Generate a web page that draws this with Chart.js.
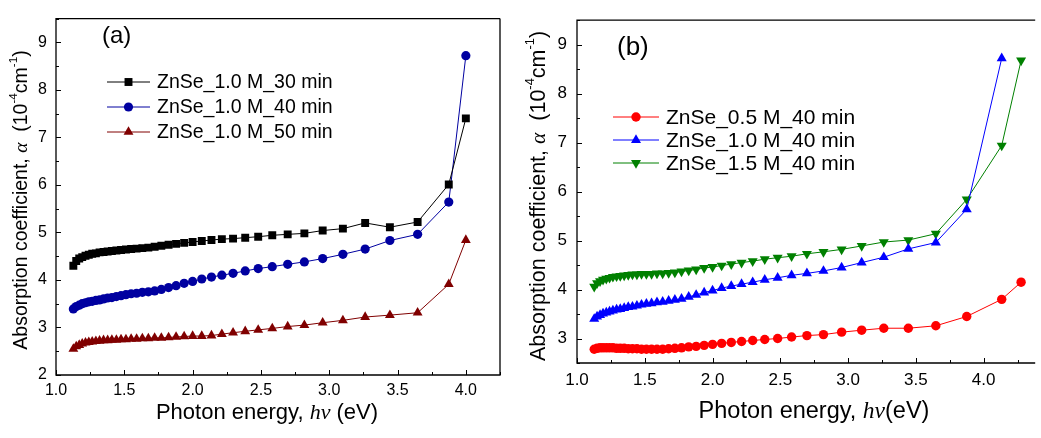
<!DOCTYPE html>
<html>
<head>
<meta charset="utf-8">
<script src="https://cdn.jsdelivr.net/npm/chart.js@4.4.0/dist/chart.umd.min.js"></script>
<style>
  html, body { margin: 0; padding: 0; background: #fff; }
  #wrap { position: relative; width: 1041px; height: 438px; overflow: hidden; }
  #wrap canvas { position: absolute; top: 0; }
</style>
</head>
<body>
<div id="wrap">
  <canvas id="chartA" width="520" height="438" style="left:0"></canvas>
  <canvas id="chartB" width="521" height="438" style="left:520px"></canvas>
</div>
<script>
// photon energies (eV)
var energyA = [1.127, 1.148, 1.170, 1.192, 1.216, 1.240, 1.265, 1.292, 1.319, 1.348,
  1.378, 1.409, 1.442, 1.476, 1.512, 1.550, 1.590, 1.632, 1.676, 1.722,
  1.771, 1.824, 1.879, 1.938, 2.000, 2.067, 2.138, 2.214, 2.296, 2.385,
  2.480, 2.583, 2.696, 2.818, 2.952, 3.100, 3.263, 3.444, 3.647, 3.875, 4.000];
var energyB = [1.127, 1.148, 1.170, 1.192, 1.216, 1.240, 1.265, 1.292, 1.319, 1.348,
  1.378, 1.409, 1.442, 1.476, 1.512, 1.550, 1.590, 1.632, 1.676, 1.722,
  1.771, 1.824, 1.879, 1.938, 2.000, 2.067, 2.138, 2.214, 2.296, 2.385,
  2.480, 2.583, 2.696, 2.818, 2.952, 3.100, 3.263, 3.444, 3.647, 3.875, 4.133, 4.276];

// tick labels
var xTicks = [1.0, 1.5, 2.0, 2.5, 3.0, 3.5, 4.0];
var yTicksA = [2, 3, 4, 5, 6, 7, 8, 9];
var yTicksB = [3, 4, 5, 6, 7, 8, 9];

// panel (a): 1.0 M, different deposition times
var labelsA = ["ZnSe_1.0 M_30 min", "ZnSe_1.0 M_40 min", "ZnSe_1.0 M_50 min"];
var min30 = [4.30, 4.40, 4.45, 4.48, 4.51, 4.53, 4.55, 4.56, 4.58, 4.59,
  4.60, 4.61, 4.62, 4.63, 4.64, 4.65, 4.66, 4.67, 4.68, 4.70,
  4.72, 4.74, 4.76, 4.78, 4.80, 4.82, 4.84, 4.86, 4.87, 4.89,
  4.91, 4.94, 4.96, 4.98, 5.04, 5.08, 5.20, 5.11, 5.22, 6.01, 7.40];
var min40 = [3.39, 3.44, 3.47, 3.50, 3.52, 3.54, 3.55, 3.57, 3.58, 3.60,
  3.62, 3.63, 3.65, 3.67, 3.69, 3.71, 3.72, 3.74, 3.75, 3.77,
  3.80, 3.84, 3.88, 3.93, 3.97, 4.02, 4.06, 4.10, 4.14, 4.19,
  4.24, 4.28, 4.33, 4.38, 4.45, 4.54, 4.65, 4.83, 4.96, 5.64, 8.72];
var min50 = [2.55, 2.60, 2.63, 2.66, 2.68, 2.69, 2.70, 2.71, 2.72, 2.73,
  2.73, 2.74, 2.74, 2.75, 2.75, 2.76, 2.76, 2.77, 2.77, 2.78,
  2.78, 2.79, 2.80, 2.81, 2.82, 2.82, 2.83, 2.86, 2.89, 2.92,
  2.95, 2.98, 3.02, 3.05, 3.10, 3.15, 3.22, 3.26, 3.31, 3.91, 4.84];

// panel (b): 40 min, different concentrations
var labelsB = ["ZnSe_0.5 M_40 min", "ZnSe_1.0 M_40 min", "ZnSe_1.5 M_40 min"];
var conc05 = [2.78, 2.80, 2.81, 2.81, 2.81, 2.81, 2.81, 2.80, 2.80, 2.80,
  2.79, 2.79, 2.79, 2.78, 2.78, 2.78, 2.78, 2.78, 2.79, 2.80,
  2.81, 2.83, 2.84, 2.86, 2.88, 2.90, 2.92, 2.94, 2.96, 2.98,
  3.00, 3.03, 3.06, 3.08, 3.13, 3.17, 3.21, 3.21, 3.26, 3.45, 3.80, 4.15];
var conc10 = [3.40, 3.45, 3.48, 3.51, 3.53, 3.55, 3.57, 3.59, 3.60, 3.62,
  3.64, 3.65, 3.67, 3.69, 3.71, 3.72, 3.74, 3.75, 3.77, 3.79,
  3.81, 3.85, 3.89, 3.94, 3.98, 4.03, 4.07, 4.11, 4.15, 4.20,
  4.24, 4.29, 4.33, 4.38, 4.45, 4.55, 4.66, 4.83, 4.96, 5.64, 8.72];
var conc15 = [4.06, 4.13, 4.17, 4.20, 4.22, 4.24, 4.26, 4.27, 4.28, 4.29,
  4.30, 4.31, 4.31, 4.32, 4.32, 4.32, 4.33, 4.33, 4.34, 4.35,
  4.37, 4.39, 4.41, 4.44, 4.46, 4.49, 4.52, 4.55, 4.58, 4.62,
  4.65, 4.68, 4.73, 4.77, 4.82, 4.89, 4.97, 5.01, 5.14, 5.84, 6.94, 8.68];

var SANS = '"Liberation Sans", Arial, sans-serif';
var SERIF = '"Liberation Serif", "Times New Roman", serif';
Chart.defaults.font.family = SANS;
Chart.defaults.color = "#000";

function series(label, xs, ys, color, style, radius, rotation) {
    return {
        label: label,
        data: ys.map(function (v, i) { return { x: xs[i], y: v }; }),
        borderColor: color,
        backgroundColor: color,
        borderWidth: 1,
        tension: 0,
        fill: false,
        pointStyle: style,
        pointRadius: radius,
        pointRotation: rotation || 0,
        pointBorderWidth: 0,
        pointBackgroundColor: color
    };
}

// draws a legend marker the same way Chart.js draws the points
function marker(ctx, ds, x, y) {
    var r = ds.pointRadius;
    ctx.fillStyle = ds.pointBackgroundColor;
    ctx.beginPath();
    if (ds.pointStyle === "rect") {
        var s = r * Math.SQRT2;
        ctx.rect(x - s / 2, y - s / 2, s, s);
    } else if (ds.pointStyle === "circle") {
        ctx.arc(x, y, r, 0, Math.PI * 2);
    } else {
        var rad = ds.pointRotation * Math.PI / 180;
        for (var k = 0; k < 3; k++) {
            var px = x + Math.sin(rad) * r, py = y - Math.cos(rad) * r;
            if (k === 0) ctx.moveTo(px, py); else ctx.lineTo(px, py);
            rad += Math.PI * 2 / 3;
        }
        ctx.closePath();
    }
    ctx.fill();
}

// text made of pieces (normal, italic, superscript)
function richText(ctx, parts, cx, cy, size, rotate) {
    var fonts = parts.map(function (p) {
        var s = p.sup ? size * 0.6 : size;
        return (p.italic ? "italic " : "") + s + "px " + (p.italic ? SERIF : SANS);
    });
    var total = 0, widths = [];
    parts.forEach(function (p, i) {
        ctx.font = fonts[i];
        widths.push(ctx.measureText(p.t).width);
        total += widths[widths.length - 1];
    });
    ctx.save();
    ctx.translate(cx, cy);
    if (rotate) ctx.rotate(-Math.PI / 2);
    ctx.fillStyle = "#000";
    ctx.textBaseline = "middle";
    ctx.textAlign = "left";
    var x = -total / 2;
    parts.forEach(function (p, i) {
        ctx.font = fonts[i];
        ctx.fillText(p.t, x, p.sup ? -size * 0.42 : 0);
        x += widths[i];
    });
    ctx.restore();
}

var decor = {
    id: "decor",
    afterDraw: function (chart, args, o) {
        var ctx = chart.ctx, a = chart.chartArea;
        var xs = chart.scales.x, ys = chart.scales.y;
        ctx.save();
        ctx.strokeStyle = "#000";
        ctx.lineWidth = 1.3;
        ctx.beginPath();
        ctx.moveTo(a.right, a.top);
        ctx.lineTo(a.left, a.top);
        ctx.lineTo(a.left, a.bottom);
        ctx.lineTo(a.right, a.bottom);
        if (o.rightBorder) ctx.lineTo(a.right, a.top);
        ctx.stroke();

        // inward ticks
        ctx.lineWidth = 1;
        ctx.beginPath();
        for (var k = 0; ; k++) {
            var v = xs.min + k * 0.25;
            if (v > xs.max + 1e-9) break;
            var px = Math.round(xs.getPixelForValue(v)) + 0.5;
            var len = k % 2 === 0 ? 5 : 3;
            ctx.moveTo(px, a.bottom);
            ctx.lineTo(px, a.bottom - len);
        }
        for (var j = Math.ceil(ys.min * 2); j <= ys.max * 2; j++) {
            var py = Math.round(ys.getPixelForValue(j / 2)) + 0.5;
            var l2 = j % 2 === 0 ? 5 : 3;
            ctx.moveTo(a.left, py);
            ctx.lineTo(a.left + l2, py);
        }
        ctx.stroke();

        // panel label
        ctx.fillStyle = "#000";
        ctx.font = o.tagSize + "px " + SANS;
        ctx.textBaseline = "middle";
        ctx.textAlign = "left";
        ctx.fillText(o.tag, o.tagX, o.tagY);

        // legend
        var lg = o.legend;
        chart.data.datasets.forEach(function (ds, i) {
            var y = lg.y0 + i * lg.dy;
            ctx.strokeStyle = ds.borderColor;
            ctx.lineWidth = 1;
            ctx.beginPath();
            ctx.moveTo(lg.x1, y);
            ctx.lineTo(lg.x2, y);
            ctx.stroke();
            marker(ctx, ds, (lg.x1 + lg.x2) / 2, y);
            ctx.fillStyle = "#000";
            ctx.font = lg.size + "px " + SANS;
            ctx.fillText(ds.label, lg.tx, y + 1);
        });

        // axis titles
        richText(ctx, [
            { t: "Photon energy, " }, { t: "h\u03bd", italic: true }, { t: o.evGap ? " (eV)" : "(eV)" }
        ], o.xTitle[0], o.xTitle[1], o.xTitle[2], false);
        richText(ctx, [
            { t: "Absorption coefficient, " }, { t: "\u03b1", italic: true }, { t: "  (10" },
            { t: "-4", sup: true }, { t: "cm" }, { t: "-1", sup: true }, { t: ")" }
        ], o.yTitle[0], o.yTitle[1], o.yTitle[2], true);
        ctx.restore();
    }
};

function build(id, datasets, p) {
    return new Chart(document.getElementById(id), {
        type: "line",
        data: { datasets: datasets },
        plugins: [decor],
        options: {
            responsive: false,
            animation: false,
            events: [],
            layout: { padding: p.padding },
            scales: {
                x: {
                    type: "linear",
                    min: 1.0,
                    max: p.xMax,
                    grid: { display: false, drawTicks: false },
                    border: { display: false },
                    ticks: {
                        padding: p.xPad,
                        maxRotation: 0,
                        autoSkip: false,
                        font: { size: p.tickSize },
                        callback: function (v) { return v.toFixed(1); }
                    },
                    afterBuildTicks: function (s) {
                        s.ticks = xTicks.map(function (v) { return { value: v }; });
                    },
                    afterFit: function (s) { s.height = p.xHeight; }
                },
                y: {
                    min: p.yMin,
                    max: 9.5,
                    grid: { display: false, drawTicks: false },
                    border: { display: false },
                    ticks: {
                        padding: p.yPad,
                        autoSkip: false,
                        font: { size: p.tickSize },
                        callback: function (v) { return String(v); }
                    },
                    afterBuildTicks: function (s) {
                        s.ticks = p.yTicks.map(function (v) { return { value: v }; });
                    },
                    afterFit: function (s) { s.width = p.yWidth; }
                }
            },
            plugins: {
                legend: { display: false },
                tooltip: { enabled: false },
                decor: p.decor
            }
        }
    });
}

build("chartA", [
    series(labelsA[0], energyA, min30, "#000000", "rect", 5.6),
    series(labelsA[1], energyA, min40, "#0000a0", "circle", 4.6),
    series(labelsA[2], energyA, min50, "#800000", "triangle", 5.7)
], {
    padding: { top: 3, right: 20, left: 0, bottom: 0 },
    xMax: 4.25, yMin: 2, yTicks: yTicksA, xHeight: 63, yWidth: 56,
    xPad: 6, yPad: 9, tickSize: 16,
    decor: {
        rightBorder: true,
        tag: "(a)", tagSize: 24, tagX: 102, tagY: 36,
        legend: { x1: 107, x2: 150, tx: 157, y0: 82, dy: 25, size: 19.5 },
        xTitle: [267, 413, 22], yTitle: [22, 200, 19.5], evGap: true
    }
});

build("chartB", [
    series(labelsB[0], energyB, conc05, "#ff0000", "circle", 4.7),
    series(labelsB[1], energyB, conc10, "#0000ff", "triangle", 5.8),
    series(labelsB[2], energyB, conc15, "#008000", "triangle", 5.8, 180)
], {
    padding: { top: 8, right: 0, left: 0, bottom: 0 },
    xMax: 4.38, yMin: 2.5, yTicks: yTicksB, xHeight: 75, yWidth: 57,
    xPad: 7, yPad: 10, tickSize: 17,
    decor: {
        rightBorder: false,
        tag: "(b)", tagSize: 26, tagX: 97, tagY: 48,
        legend: { x1: 93, x2: 139, tx: 146, y0: 117, dy: 23, size: 21 },
        xTitle: [294, 412, 23.5], yTitle: [19, 196, 21.5], evGap: false
    }
});
</script>
</body>
</html>
